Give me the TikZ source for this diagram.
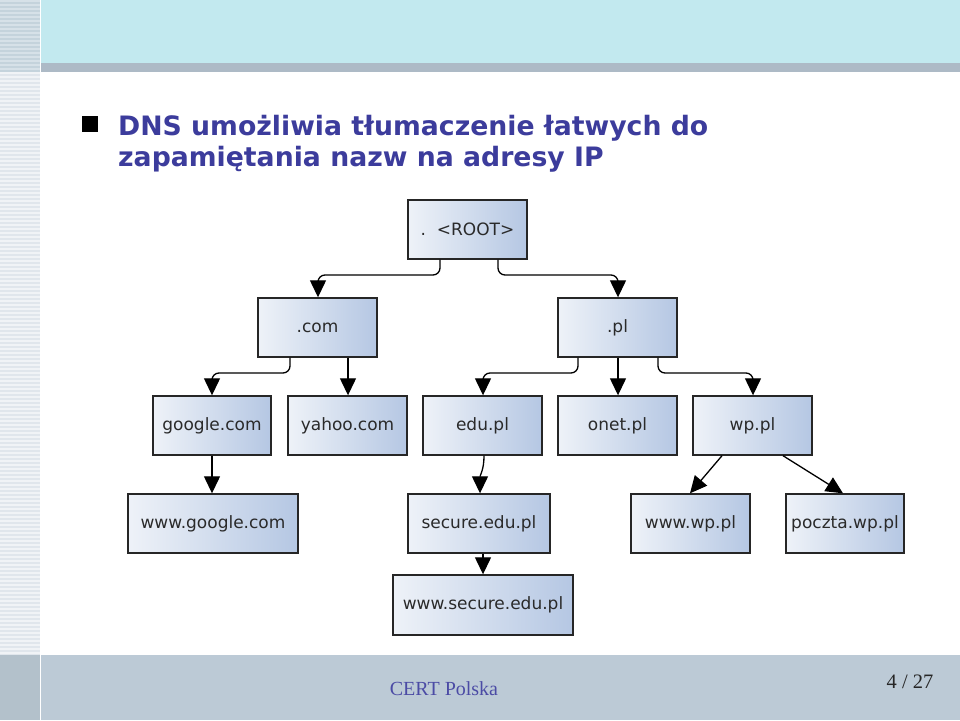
\documentclass[tikz,border=0pt]{standalone}
\usepackage{fontspec}
\setmainfont{DejaVu Sans}
\newfontfamily\serifft{Liberation Serif}
\usetikzlibrary{arrows.meta}
\definecolor{topband}{HTML}{C2E9EF}
\definecolor{grayband}{HTML}{ADBAC6}
\definecolor{footband}{HTML}{BCCAD6}
\definecolor{titleblue}{HTML}{3C3C9C}
\definecolor{footblue}{HTML}{4B4BA5}
\definecolor{boxlight}{HTML}{EEF2F8}
\definecolor{boxdark}{HTML}{B5C7E3}
\definecolor{boxtext}{HTML}{2A2A2A}
\tikzset{
  dnsbox/.style={draw=black!85, line width=1.4pt, left color=boxlight, right color=boxdark,
     minimum height=59pt, inner sep=0pt, font=\fontsize{17}{19}\selectfont, text=boxtext},
  conn/.style={line width=1.3pt, rounded corners=7pt, -{Triangle[width=16pt,length=17pt]}}
}
\begin{document}
\begin{tikzpicture}[x=1pt,y=-1pt]
\useasboundingbox (0,0) rectangle (960,720);
\fill[white] (0,0) rectangle (960,720);
% left strip
\fill[fill={rgb,255:red,196;green,211;blue,220}] (0,0) rectangle (40,72);
\foreach \i in {0,...,17} {\fill[fill={rgb,255:red,214;green,225;blue,232}] (0,\i*4) rectangle (40,\i*4+2);}
\fill[fill={rgb,255:red,224;green,230;blue,236}] (0,72) rectangle (40,655);
\foreach \i in {0,...,145} {\fill[fill={rgb,255:red,240;green,243;blue,246}] (0,72+\i*4) rectangle (40,72+\i*4+2);}
\fill[fill={rgb,255:red,179;green,193;blue,203}] (0,655) rectangle (40,720);
\draw[white, line width=1pt] (40.5,0) -- (40.5,720);
% top band
\fill[topband] (41,0) rectangle (960,63);
\fill[grayband] (41,63) rectangle (960,72);
% footer
\fill[footband] (41,655) rectangle (960,720);
% title
\fill[black] (82,116) rectangle (98,132);
\node[anchor=base west, inner sep=0pt, text=titleblue, font=\fontsize{26.7}{30}\selectfont\bfseries] (t1) at (118,135) {DNS umożliwia tłumaczenie łatwych do};
\node[anchor=base west, inner sep=0pt, text=titleblue, font=\fontsize{26.7}{30}\selectfont\bfseries] (t2) at (118,166) {zapamiętania nazw na adresy IP};
% footer texts
\node[anchor=base, inner sep=0pt, text=footblue, font=\serifft\fontsize{20}{22}\selectfont] (cert) at (444,695) {CERT Polska};
\node[anchor=base, inner sep=0pt, text=black!85, font=\serifft\fontsize{20.5}{22}\selectfont] (pg) at (910,688) {4 / 27};
% boxes
\node[dnsbox, minimum width=119pt] (root) at (467.5,229.5) {.\ \ <ROOT>};
\node[dnsbox, minimum width=119pt] (com) at (317.5,327.5) {.com};
\node[dnsbox, minimum width=119pt] (pl) at (617.5,327.5) {.pl};
\node[dnsbox, minimum width=118pt] (google) at (212,425.5) {google.com};
\node[dnsbox, minimum width=119pt] (yahoo) at (347.5,425.5) {yahoo.com};
\node[dnsbox, minimum width=119pt] (edu) at (482.5,425.5) {edu.pl};
\node[dnsbox, minimum width=119pt] (onet) at (617.5,425.5) {onet.pl};
\node[dnsbox, minimum width=119pt] (wp) at (752.5,425.5) {wp.pl};
\node[dnsbox, minimum width=170pt] (wwwgoogle) at (213,523.5) {www.google.com};
\node[dnsbox, minimum width=142pt] (secure) at (479,523.5) {secure.edu.pl};
\node[dnsbox, minimum width=119pt] (wwwwp) at (690.5,523.5) {www.wp.pl};
\node[dnsbox, minimum width=118pt] (poczta) at (845,523.5) {poczta.wp.pl};
\node[dnsbox, minimum width=180pt, minimum height=60pt] (wwwsecure) at (483,605) {www.secure.edu.pl};
% connectors
\draw[conn] (root.south -| 440,0) -- (440,275) -- (318,275) -- (com.north -| 318,0);
\draw[conn] (root.south -| 498,0) -- (498,275) -- (618,275) -- (pl.north -| 618,0);
\draw[conn] (com.south -| 290,0) -- (290,373) -- (212,373) -- (google.north -| 212,0);
\draw[conn] (com.south -| 348,0) -- (yahoo.north -| 348,0);
\draw[conn] (pl.south -| 578,0) -- (578,373) -- (483,373) -- (edu.north -| 483,0);
\draw[conn] (pl.south -| 618,0) -- (onet.north -| 618,0);
\draw[conn] (pl.south -| 658,0) -- (658,373) -- (753,373) -- (wp.north -| 753,0);
\draw[conn] (google.south -| 212,0) -- (wwwgoogle.north -| 212,0);
\draw[line width=1.3pt, -{Triangle[width=16pt,length=17pt]}] (edu.south -| 484,0) .. controls (484,470) and (480,475) .. (secure.north -| 480,0);
\draw[conn] (wp.south -| 722,0) -- (wwwwp.north -| 690,0);
\draw[conn] (wp.south -| 783,0) -- (poczta.north -| 843,0);
\draw[conn] (secure.south -| 483,0) -- (wwwsecure.north -| 483,0);
\end{tikzpicture}
\end{document}
